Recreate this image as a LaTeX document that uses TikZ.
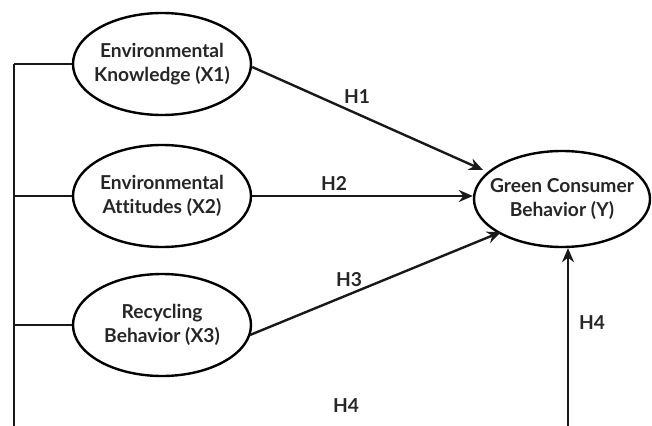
\documentclass[tikz,border=0pt]{standalone}
\usepackage{fontspec}
\setmainfont{Lato}[Ligatures=NoCommon]
\usetikzlibrary{shapes.geometric,arrows.meta}
\begin{document}
\begin{tikzpicture}[x=1pt,y=-1pt,
  latent/.style={draw,line width=2.4pt,ellipse,minimum width=178pt,minimum height=102pt,inner sep=-30pt,align=center,font=\fontsize{19.2}{24.5}\selectfont\bfseries,text=black!85},
  link/.style={line width=2.4pt,draw=black!90},
  arr/.style={link,-{Stealth[length=14pt,width=12pt]}},
  hlab/.style={font=\fontsize{19.2}{20}\selectfont\bfseries,text=black!85}]
\useasboundingbox (0,0) rectangle (652,425);
\node[latent] (x1) at (162,64) {Environmental\\Knowledge (X1)};
\node[latent] (x2) at (162,196) {Environmental\\Attitudes (X2)};
\node[latent] (x3) at (162,325) {Recycling\\Behavior (X3)};
\node[latent,minimum width=176pt,minimum height=96pt] (y) at (562,199) {Green Consumer\\Behavior (Y)};
\coordinate (lt) at (14,64);
\coordinate (lb) at (14,428);
\coordinate (rb) at (568,428);
\draw[link] (lt) -- (lb);
\draw[link] (lt) -- (x1.west);
\draw[link] (lt |- x2.west) -- (x2.west);
\draw[link] (lt |- x3.west) -- (x3.west);
\draw[arr] (x1.east) ++(0,3) -- (483,170);
\draw[arr] (x2.east) -- (x2.east -| y.west);
\draw[arr] (250,335) -- (501,232);
\draw[arr] (rb) -- (y.south -| rb);
\node[hlab] (h1) at (357,97) {H1};
\node[hlab] (h2) at (334,183) {H2};
\node[hlab] (h3) at (349,280) {H3};
\node[hlab] (h4a) at (592,323) {H4};
\node[hlab] (h4b) at (346,406) {H4};
\end{tikzpicture}
\end{document}
